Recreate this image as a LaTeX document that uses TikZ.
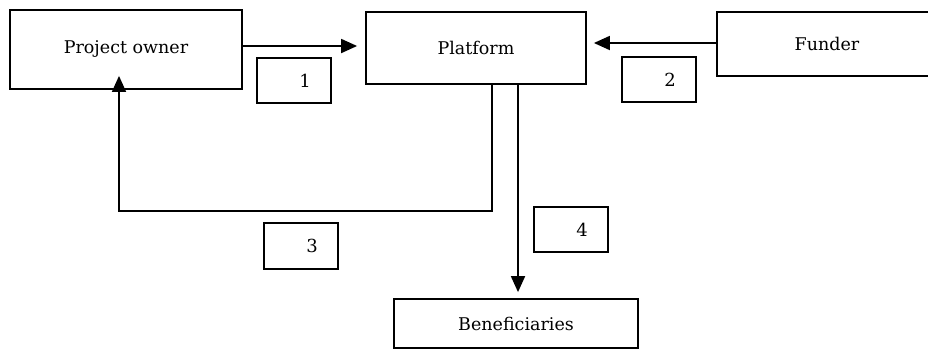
\documentclass[tikz,border=0pt]{standalone}
\usepackage{fontspec}
\setmainfont{DejaVu Serif}
\usetikzlibrary{arrows.meta}
\begin{document}
\begin{tikzpicture}[x=1pt,y=-1pt,
  mainbox/.style={draw, line width=1.8pt, inner sep=0pt, font=\fontsize{17.5}{20}\selectfont},
  numbox/.style={draw, line width=1.1pt, minimum width=74pt, minimum height=45pt, inner sep=0pt, font=\fontsize{18}{20}\selectfont},
  arr/.style={line width=1.8pt, -{Triangle[length=16pt,width=14pt]}}]
\useasboundingbox (0,0) rectangle (928,349);
\node[mainbox, minimum width=232pt, minimum height=79pt] (po) at (126,49.5) {Project owner};
\node[mainbox, minimum width=220pt, minimum height=72pt] (pf) at (476,48) {Platform};
\node[mainbox, minimum width=220pt, minimum height=64pt] (fu) at (827,44) {Funder};
\node[mainbox, minimum width=244pt, minimum height=49pt] (be) at (516,323.5) {Beneficiaries};
\node[numbox] (l1) at (294,80.5) {\hspace*{22pt}1};
\node[numbox] (l2) at (659,79.5) {\hspace*{22pt}2};
\node[numbox, minimum height=46pt] (l3) at (301,246) {\hspace*{22pt}3};
\node[numbox] (l4) at (571,229.5) {\hspace*{22pt}4};
\draw[arr] ([yshift=3.5pt]po.east) -- ([xshift=-8pt,yshift=2pt]pf.west);
\draw[arr] ([yshift=1pt]fu.west) -- ([xshift=7pt,yshift=5pt]pf.east);
\draw[arr] ([xshift=16pt]pf.south) -- ++(0,126) -| ([xshift=-7pt,yshift=14pt]po.south);
\coordinate (p4) at ([xshift=42pt]pf.south);
\draw[arr, shorten >=6pt] (p4) -- (p4 |- be.north);
\end{tikzpicture}
\end{document}
